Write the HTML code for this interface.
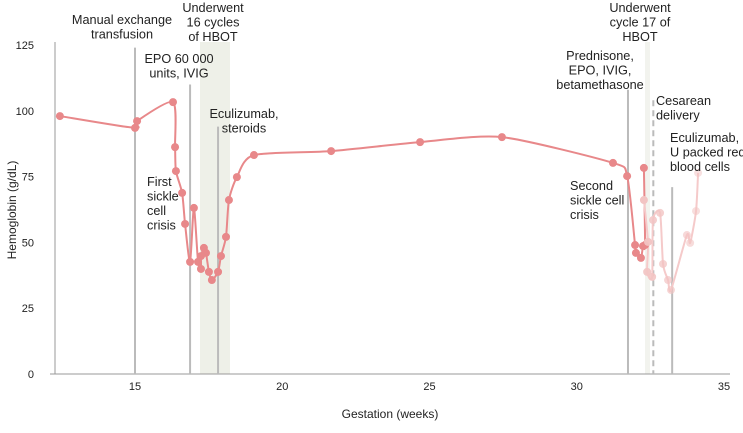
<!DOCTYPE html>
<html><head><meta charset="utf-8"><style>
body{margin:0;background:#fff}
svg text{font-family:"Liberation Sans",sans-serif;fill:#222}
</style></head><body>
<svg id="chart" width="743" height="428">
<rect x="200" y="42" width="30" height="332" fill="#eef0e8"/>
<rect x="645" y="42" width="5" height="332" fill="#f2f3ee"/>
<line x1="55" y1="42" x2="55" y2="374" stroke="#999"/>
<line x1="50" y1="374" x2="730" y2="374" stroke="#999"/>
<g id="yt"></g>
<g id="xt"></g>
<g id="ev"></g>
<g id="series"></g>
<text x="16" y="210" font-size="12" text-anchor="middle" transform="rotate(-90 16 210)">Hemoglobin (g/dL)</text>
<text x="390" y="418" font-size="12" text-anchor="middle">Gestation (weeks)</text>
<g font-size="12.7">
<text x="122" y="24" text-anchor="middle"><tspan x="122">Manual exchange</tspan><tspan x="122" dy="14.5">transfusion</tspan></text>
<text x="213" y="12" text-anchor="middle"><tspan x="213">Underwent</tspan><tspan x="213" dy="14.5">16 cycles</tspan><tspan x="213" dy="14.5">of HBOT</tspan></text>
<text x="179" y="63" text-anchor="middle"><tspan x="179">EPO 60 000</tspan><tspan x="179" dy="14.5">units, IVIG</tspan></text>
<text x="244" y="118" text-anchor="middle"><tspan x="244">Eculizumab,</tspan><tspan x="244" dy="14.5">steroids</tspan></text>
<text x="147" y="186"><tspan x="147">First</tspan><tspan x="147" dy="14.5">sickle</tspan><tspan x="147" dy="14.5">cell</tspan><tspan x="147" dy="14.5">crisis</tspan></text>
<text x="600" y="60" text-anchor="middle"><tspan x="600">Prednisone,</tspan><tspan x="600" dy="14.5">EPO, IVIG,</tspan><tspan x="600" dy="14.5">betamethasone</tspan></text>
<text x="640" y="12" text-anchor="middle"><tspan x="640">Underwent</tspan><tspan x="640" dy="14.5">cycle 17 of</tspan><tspan x="640" dy="14.5">HBOT</tspan></text>
<text x="656" y="105"><tspan x="656">Cesarean</tspan><tspan x="656" dy="14.5">delivery</tspan></text>
<text x="670" y="142"><tspan x="670">Eculizumab, 1</tspan><tspan x="670" dy="14.5">U packed red</tspan><tspan x="670" dy="14.5">blood cells</tspan></text>
<text x="570" y="190"><tspan x="570">Second</tspan><tspan x="570" dy="14.5">sickle cell</tspan><tspan x="570" dy="14.5">crisis</tspan></text>
</g>
</svg>
<script>
const yTicks=[0,25,50,75,100,125];
const xTicks=[15,20,25,30,35];
const mainWeeks=[12.45,15.0,15.07,16.29,16.36,16.39,16.6,16.7,16.87,17.0,17.14,17.24,17.24,17.34,17.41,17.51,17.61,17.82,17.92,18.09,18.19,18.46,19.04,21.66,24.68,27.46,31.23,31.71,31.98,32.01,32.18,32.25,32.32,32.28];
const mainHb=[98,93.5,96.1,103.3,86.2,77.1,68.8,57,42.6,63.1,42.6,39.9,44.8,47.9,46,38.8,35.7,38.8,44.8,52.1,66.1,74.8,83.2,84.7,88.1,90,80.2,75.2,49,46,44.1,48.6,49,78.3];
const postWeeks=[32.28,32.42,32.39,32.56,32.59,32.83,32.93,33.1,33.2,33.74,33.85,34.05,34.12];
const postHb=[66.1,50.2,38.8,36.9,58.5,61.2,41.8,35.7,31.9,52.8,49.8,61.9,76.4];
const eventWeeks=[15.0,16.87,17.82,31.74,33.24];
const eventTopHb=[124,110,94,108,71];
const cesareanWeek=32.6, cesareanTop=104;
const X=w=>135+(w-15)*29.45, Y=v=>374-v*2.632;
const NS="http://www.w3.org/2000/svg";
function mk(t,a,p){const e=document.createElementNS(NS,t);for(const k in a)e.setAttribute(k,a[k]);p.appendChild(e);return e;}
function smooth(pts){let d='M'+pts[0][0]+','+pts[0][1];const k=0.12;
for(let i=0;i<pts.length-1;i++){const p0=pts[i-1]||pts[i],p1=pts[i],p2=pts[i+1],p3=pts[i+2]||p2;
d+=' C'+(p1[0]+(p2[0]-p0[0])*k)+','+(p1[1]+(p2[1]-p0[1])*k)+' '+(p2[0]-(p3[0]-p1[0])*k)+','+(p2[1]-(p3[1]-p1[1])*k)+' '+p2[0]+','+p2[1];}
return d;}
const yt=document.getElementById('yt'),xt=document.getElementById('xt'),ev=document.getElementById('ev'),se=document.getElementById('series');
yTicks.forEach(v=>{const t=mk('text',{x:34,y:Y(v)+4,'font-size':11,'text-anchor':'end'},yt);t.textContent=v;

});
xTicks.forEach(w=>{const t=mk('text',{x:X(w),y:390,'font-size':11,'text-anchor':'middle'},xt);t.textContent=w;

});
eventWeeks.forEach((w,i)=>{const l=mk('line',{x1:X(w),x2:X(w),y1:Y(eventTopHb[i]),y2:374,stroke:'#bbb','stroke-width':2},ev);

});
const cl=mk('line',{x1:X(cesareanWeek),x2:X(cesareanWeek),y1:Y(cesareanTop),y2:374,stroke:'#bbb','stroke-width':2,'stroke-dasharray':'6,4'},ev);


const col='#e8888a';
const mp=mk('path',{d:smooth(mainWeeks.map((w,i)=>[X(w),Y(mainHb[i])])),fill:'none',stroke:col,'stroke-width':2},se);


const pp=mk('path',{d:smooth(postWeeks.map((w,i)=>[X(w),Y(postHb[i])])),fill:'none',stroke:'#f5caca','stroke-width':2},se);


mainWeeks.forEach((w,i)=>{const c=mk('circle',{cx:X(w),cy:Y(mainHb[i]),r:4,fill:col},se);

});
postWeeks.forEach((w,i)=>{const c=mk('circle',{cx:X(w),cy:Y(postHb[i]),r:4,fill:'#f2c4c3',opacity:1-i*0.04},se);

});
</script>
</body></html>
